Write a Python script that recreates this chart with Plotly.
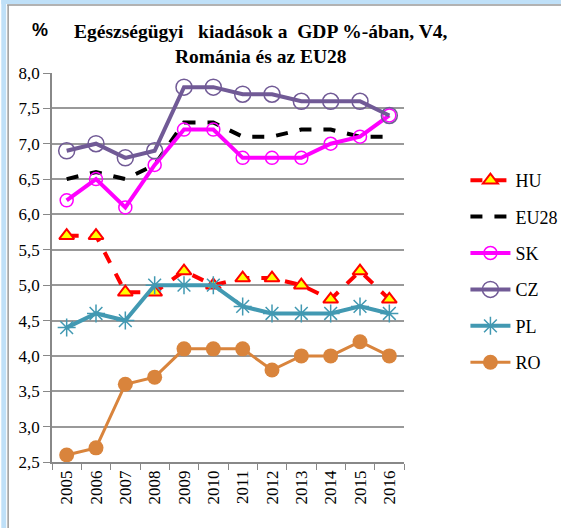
import plotly.graph_objects as go

years = ["2005", "2006", "2007", "2008", "2009", "2010", "2011", "2012", "2013", "2014", "2015", "2016"]
hu = [5.7, 5.7, 4.9, 4.9, 5.2, 5.0, 5.1, 5.1, 5.0, 4.8, 5.2, 4.8]
eu28 = [6.5, 6.6, 6.5, 6.7, 7.3, 7.3, 7.1, 7.1, 7.2, 7.2, 7.1, 7.1]
sk = [6.2, 6.5, 6.1, 6.7, 7.2, 7.2, 6.8, 6.8, 6.8, 7.0, 7.1, 7.4]
cz = [6.9, 7.0, 6.8, 6.9, 7.8, 7.8, 7.7, 7.7, 7.6, 7.6, 7.6, 7.4]
pl = [4.4, 4.6, 4.5, 5.0, 5.0, 5.0, 4.7, 4.6, 4.6, 4.6, 4.7, 4.6]
ro = [2.6, 2.7, 3.6, 3.7, 4.1, 4.1, 4.1, 3.8, 4.0, 4.0, 4.2, 4.0]

W, H = 574, 528
L, R, T, B = 52, 161, 73, 66
serif = "Times New Roman, Liberation Serif, DejaVu Serif, serif"

fig = go.Figure()
fig.add_trace(go.Scatter(x=years, y=hu, name="HU", mode="lines+markers", legendgroup="a",
                         line=dict(color="#ff0000", width=4, dash="dash"),
                         marker=dict(symbol="triangle-up", size=13, color="#ffff00",
                                     line=dict(color="#ff0000", width=2))))
fig.add_trace(go.Scatter(x=years, y=eu28, name="EU28", mode="lines", legendgroup="b",
                         line=dict(color="#000000", width=4, dash="dash")))
fig.add_trace(go.Scatter(x=years, y=sk, name="SK", mode="lines+markers", legendgroup="c",
                         line=dict(color="#ff00ff", width=4),
                         marker=dict(symbol="circle-open", size=13, color="#ff00ff",
                                     line=dict(width=1.5))))
fig.add_trace(go.Scatter(x=years, y=cz, name="CZ", mode="lines+markers", legendgroup="d",
                         line=dict(color="#715a96", width=4),
                         marker=dict(symbol="circle-open", size=16, color="#715a96",
                                     line=dict(width=1.5))))
fig.add_trace(go.Scatter(x=years, y=pl, name="PL", mode="lines+markers", legendgroup="e",
                         line=dict(color="#4299b2", width=4),
                         marker=dict(symbol="asterisk-open", size=15, color="#4299b2",
                                     line=dict(width=1.5, color="#4299b2"))))
fig.add_trace(go.Scatter(x=years, y=ro, name="RO", mode="lines+markers", legendgroup="f",
                         line=dict(color="#d9843c", width=3),
                         marker=dict(symbol="circle", size=15, color="#d9843c")))

pw = W - L - R
ph = H - T - B
def px(x):
    return (x - L) / pw
def py(y):
    return (H - B - y) / ph

fig.update_layout(
    width=W, height=H,
    margin=dict(l=L, r=R, t=T, b=B),
    paper_bgcolor="white", plot_bgcolor="white",
    separators=", ",
    font=dict(family=serif, size=16, color="black"),
    showlegend=True,
    legend=dict(x=px(476), xanchor="left", y=py(162), yanchor="top",
                font=dict(family=serif, size=18, color="black"),
                tracegroupgap=10, itemwidth=40, bgcolor="rgba(0,0,0,0)"),
    annotations=[
        dict(text="<b>Egészségügyi   kiadások a  GDP %-ában, V4,<br>Románia és az EU28</b>",
             xref="paper", yref="paper", x=px(266), y=py(19), xanchor="center", yanchor="top",
             showarrow=False, font=dict(family=serif, size=19.5, color="black"), align="center"),
        dict(text="<b>%</b>", xref="paper", yref="paper", x=px(40), y=py(18),
             xanchor="center", yanchor="top", showarrow=False,
             font=dict(family="Liberation Sans, Arial, sans-serif", size=18, color="black")),
    ],
    shapes=[
        dict(type="rect", xref="paper", yref="paper", x0=px(0), x1=px(W), y0=py(0), y1=py(4),
             fillcolor="#bfe0f8", line=dict(width=0), layer="below"),
        dict(type="rect", xref="paper", yref="paper", x0=px(0), x1=px(5), y0=py(0), y1=py(H),
             fillcolor="#bfe0f8", line=dict(width=0), layer="below"),
        dict(type="line", xref="paper", yref="paper", x0=px(6), x1=px(W), y0=py(5), y1=py(5),
             line=dict(color="#999999", width=1.5)),
        dict(type="line", xref="paper", yref="paper", x0=px(7), x1=px(7), y0=py(5), y1=py(H),
             line=dict(color="#999999", width=1.5)),
    ],
)
fig.update_xaxes(type="category", range=[-0.5, 11.5], tickson="boundaries", ticks="outside",
                 ticklen=6, tickcolor="#888888", showline=True, linecolor="#888888", linewidth=1.5,
                 tickangle=-90, showgrid=False, tickfont=dict(family=serif, size=17))
fig.update_yaxes(range=[2.5, 8.0], dtick=0.5, tick0=2.5, tickformat=".1f", ticks="outside",
                 ticklen=7, tickcolor="#888888", showline=True, linecolor="#888888", linewidth=1.5,
                 showgrid=True, gridcolor="#999999", gridwidth=1.5, zeroline=False,
                 tickfont=dict(family=serif, size=17))

fig.write_html("out.html", config={"displayModeBar": False},
               post_script="document.body.style.margin='0';")
